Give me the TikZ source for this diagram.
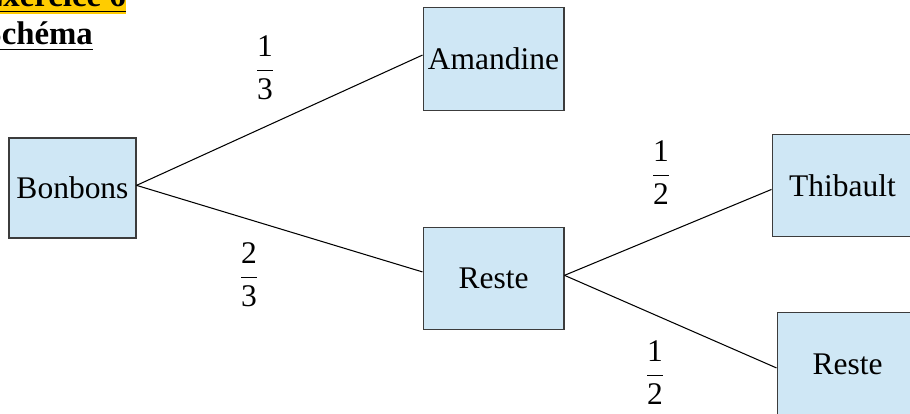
\documentclass[tikz,border=0pt]{standalone}
\usepackage{amsmath}
\usepackage{fontspec}
\setmainfont{Liberation Serif}
\usepackage{tikz}
\usetikzlibrary{positioning}

\definecolor{boxblue}{RGB}{207,231,245}
\definecolor{boxline}{RGB}{60,60,60}
\definecolor{hlyellow}{RGB}{255,204,0}

\tikzset{
  box/.style={draw=boxline, fill=boxblue, minimum width=53.7pt, minimum height=39.2pt, inner sep=0pt},
  smallbox/.style={box, minimum width=48.4pt, minimum height=38.1pt},
  branch/.style={black, line width=0.4pt},
  heading/.style={inner sep=0pt, font=\fontsize{12.5}{14}\selectfont\bfseries}
}

\begin{document}
\begin{tikzpicture}[x=0.381pt, y=-0.381pt, font=\fontsize{12}{14}\selectfont]
  \useasboundingbox (0,0) rectangle (910,414);
  \clip (0,0) rectangle (910,414);

  % titles
  \node[heading, fill=hlyellow, anchor=base west] (exo) at (-19,7) {\underline{Exercice 6}};
  \node[heading, anchor=base west] (schema) at (-17,45) {\underline{Schéma}};

  % the tree
  \node[smallbox] (bonbons) at (72.5,188) {Bonbons};
  \node[box] (amandine) at (493.5,59) {Amandine};
  \node[box] (reste) at (493.5,278.5) {Reste};
  \node[box] (thibault) at (842.5,185.5) {Thibault};
  \node[box] (reste2) at (847.5,364) {Reste};

  \draw[branch] ([yshift=1pt]bonbons.east) -- ([yshift=1.5pt]amandine.west);
  \draw[branch] ([yshift=1pt]bonbons.east) -- ([yshift=2.5pt]reste.west);
  \draw[branch] ([yshift=1.2pt]reste.east) -- ([yshift=-1.5pt]thibault.west);
  \draw[branch] ([yshift=1.2pt]reste.east) -- ([yshift=-1.5pt]reste2.west);

  % fractions
  \node[] (pA) at (265,68) {$\dfrac{\text{1}}{\text{3}}$};
  \node[] (pR) at (249,275) {$\dfrac{\text{2}}{\text{3}}$};
  \node[] (pT) at (661,173) {$\dfrac{\text{1}}{\text{2}}$};
  \node[] (pR2) at (655,373) {$\dfrac{\text{1}}{\text{2}}$};
\end{tikzpicture}
\end{document}
